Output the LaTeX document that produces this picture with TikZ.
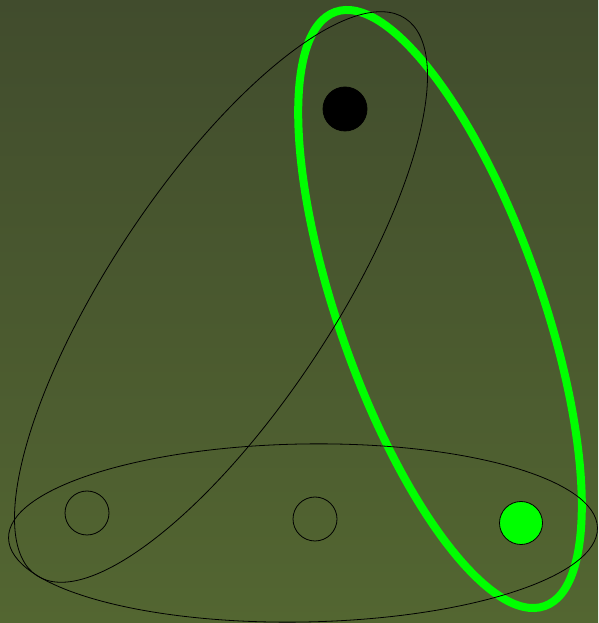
\documentclass[tikz,border=0pt]{standalone}
\usepackage{tikz}
\usetikzlibrary{positioning, shapes.geometric}
\definecolor{OliveDark}{HTML}{414C2D}
\definecolor{OliveLight}{HTML}{536631}
\definecolor{Neon}{HTML}{00FF00}
\tikzset{
    vtx/.style={circle, draw=black, line width=0.8pt, minimum size=44pt, inner sep=0pt},
    hedge/.style={ellipse, draw=black, line width=0.8pt, inner sep=0pt},
    neonhedge/.style={ellipse, draw=Neon, line width=8pt, inner sep=0pt},
}
\begin{document}
\begin{tikzpicture}[x=1pt, y=1pt]
    % Sfondo
    \shade[top color=OliveDark, bottom color=OliveLight] (0,0) rectangle (598,623);
    \useasboundingbox (0,0) rectangle (598,623);

    % --- vertici ---
    \node[vtx, fill=black] (vtop) at (345,514) {};
    \node[vtx] (vleft) at (87,110) {};
    \node[vtx] (vmid) at (315,104) {};
    \node[vtx, fill=Neon, minimum size=43pt] (vright) at (521,100) {};

    % --- iperarchi ---
    \node[neonhedge, minimum width=630pt, minimum height=203pt, rotate=-70.6] (egreen) at (440,314) {};
    \node[hedge, minimum width=668pt, minimum height=223pt, rotate=56.5] (ediag) at (221,326) {};
    \node[hedge, minimum width=589pt, minimum height=178pt, rotate=1] (ebase) at (303,90) {};
\end{tikzpicture}
\end{document}
